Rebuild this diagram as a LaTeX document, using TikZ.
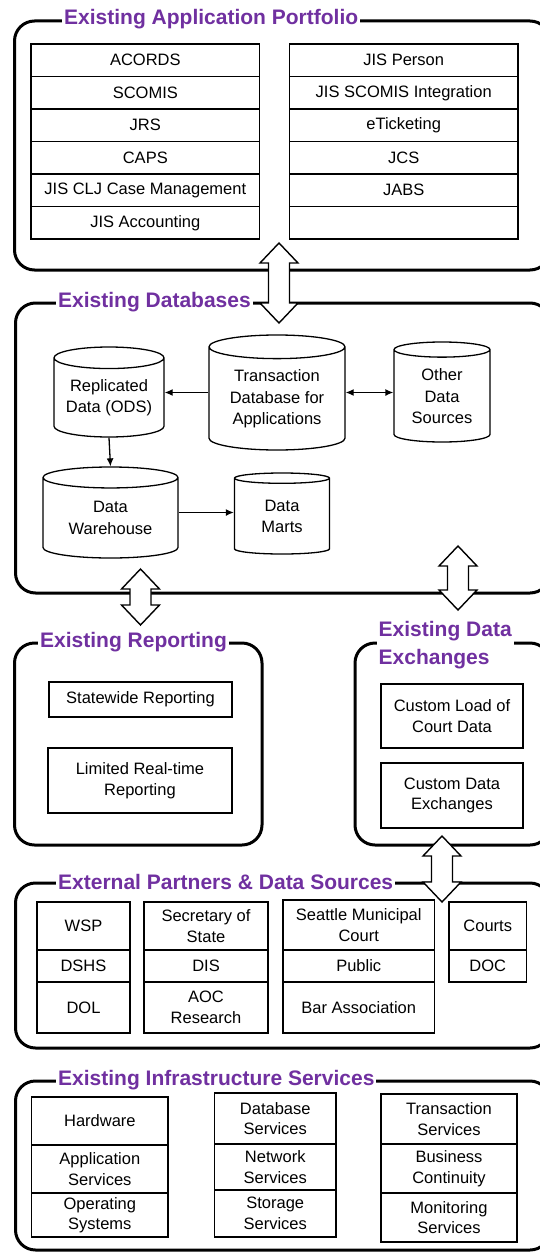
\documentclass[tikz,border=0pt]{standalone}
\usepackage{fontspec}
\setmainfont{Liberation Sans}
\usetikzlibrary{shapes.geometric,arrows.meta,calc}
\definecolor{titlepurple}{RGB}{112,48,160}
\tikzset{
    group/.style={line width=3pt, rounded corners=20pt},
    grouptitle/.style={fill=white, text=titlepurple, anchor=west, align=left,
      font=\fontsize{21}{28}\selectfont\bfseries, inner xsep=2pt, inner ysep=0pt},
    cell/.style={draw, line width=1.2pt, inner sep=0pt, align=center,
      font=\fontsize{16.5}{20.5}\selectfont},
    db/.style={cylinder, shape border rotate=90, draw, fill=white, line width=1.3pt,
      aspect=0.25, inner sep=0pt, align=center, anchor=shape center,
      font=\fontsize{16.5}{21.5}\selectfont},
    link/.style={line width=1.3pt, -{Latex[length=8pt,width=7pt]}},
    bigarrow/.style={draw, fill=white, line width=1.4pt, line join=miter,
      to path={-- ($(\tikztostart)+(19,20)$) -- ($(\tikztostart)+(10.5,20)$)
        -- ($(\tikztotarget)+(10.5,-20)$) -- ($(\tikztotarget)+(19,-20)$)
        -- (\tikztotarget) -- ($(\tikztotarget)+(-19,-20)$) -- ($(\tikztotarget)+(-10.5,-20)$)
        -- ($(\tikztostart)+(-10.5,20)$) -- ($(\tikztostart)+(-19,20)$) -- cycle}},
  }

\begin{document}
\begin{tikzpicture}[x=1pt,y=-1pt]
	          %page = 540 x 1255, y goes down
	          \useasboundingbox (0,0) rectangle (540,1255);
	          \clip (0,0) rectangle (540,1255);

	          %group frames
	          \draw[group] (14.5,21) rectangle (550,270);
	          \draw[group] (15.5,303) rectangle (550,593);
	          \draw[group] (14.5,643) rectangle (262,845);
	          \draw[group] (355,643) rectangle (550,845);
	          \draw[group] (15.5,883) rectangle (550,1048);
	          \draw[group] (15.5,1081) rectangle (550,1250);

	          \node[grouptitle] (tportfolio) at (62,19) {Existing Application Portfolio};
	          \node[grouptitle] (tdatabases) at (56,302) {Existing Databases};
	          \node[grouptitle] (treporting) at (38,642) {Existing Reporting};
	          \node[grouptitle] (texchanges) at (376.5,645) {Existing Data\\Exchanges};
	          \node[grouptitle] (tpartners) at (56,882) {External Partners \& Data Sources};
	          \node[grouptitle] (tinfra) at (56,1080) {Existing Infrastructure Services};

	          %application portfolio
	          \foreach \txt [count=\i] in {ACORDS,SCOMIS,JRS,CAPS,JIS CLJ Case Management,JIS Accounting}
	            \node[cell, minimum width=228.5pt, minimum height=32.5pt] (appL\i) at (145.3,27.75+32.5*\i) {\txt};
	          \foreach \txt [count=\i] in {JIS Person,JIS SCOMIS Integration,eTicketing,JCS,JABS,{}}
	            \node[cell, minimum width=228.5pt, minimum height=32.5pt] (appR\i) at (403.7,27.75+32.5*\i) {\txt};

	          %block arrows between groups
	          \coordinate (a1t) at (279,243);   \coordinate (a1b) at (279,323);
	          \coordinate (a2t) at (140.5,569); \coordinate (a2b) at (140.5,625);
	          \coordinate (a3t) at (458,546);   \coordinate (a3b) at (458,610);
	          \coordinate (a4t) at (442,836);   \coordinate (a4b) at (442,902);
	          \draw[bigarrow] (a1t) to (a1b);
	          \draw[bigarrow] (a2t) to (a2b);
	          \draw[bigarrow] (a3t) to (a3b);
	          \draw[bigarrow] (a4t) to (a4b);

	          %databases
	          \node[db, minimum width=110pt, minimum height=90pt] (rep) at (109,392) {Replicated\\Data (ODS)};
	          \node[db, minimum width=136pt, minimum height=115pt] (tdb) at (277,392.5) {Transaction\\Database for\\Applications};
	          \node[db, minimum width=96pt, minimum height=100pt] (ods) at (442,392) {Other\\Data\\Sources};
	          \node[db, minimum width=135pt, minimum height=91pt] (dwh) at (110.5,512.5) {Data\\Warehouse};
	          \node[db, minimum width=95pt, minimum height=81pt] (dm) at (282,513.5) {Data\\Marts};
	          \draw[link] (tdb.west |- tdb.shape center) -- (rep.east |- tdb.shape center);
	          \draw[link, {Latex[length=8pt,width=7pt]}-{Latex[length=8pt,width=7pt]}] (tdb.east |- tdb.shape center) -- (ods.west |- tdb.shape center);
	          \draw[link] (rep.south) -- (dwh.north);
	          \draw[link] (dwh.east |- dwh.shape center) -- (dm.west |- dwh.shape center);

	          %reporting
	          \node[cell, minimum width=183pt, minimum height=35pt] (statewide) at (140.5,699.5) {Statewide Reporting};
	          \node[cell, minimum width=184pt, minimum height=65pt] (realtime) at (140,780.5) {Limited Real-time\\Reporting};

	          %data exchanges
	          \node[cell, minimum width=142pt, minimum height=64pt] (customload) at (452,716) {Custom Load of\\Court Data};
	          \node[cell, minimum width=142pt, minimum height=65pt] (customex) at (452,795.5) {Custom Data\\Exchanges};

	          %external partners
	          \node[cell, minimum width=93pt, minimum height=48pt] (wsp) at (83.5,926) {WSP};
	          \node[cell, minimum width=93pt, minimum height=32pt] (dshs) at (83.5,966) {DSHS};
	          \node[cell, minimum width=93pt, minimum height=51pt] (dol) at (83.5,1007.5) {DOL};
	          \node[cell, minimum width=124pt, minimum height=48pt] (sos) at (206,926) {Secretary of\\State};
	          \node[cell, minimum width=124pt, minimum height=32pt] (dis) at (206,966) {DIS};
	          \node[cell, minimum width=124pt, minimum height=51pt] (aoc) at (206,1007.5) {AOC\\Research};
	          \node[cell, minimum width=151.5pt, minimum height=50pt] (seattle) at (358.75,925) {Seattle Municipal\\Court};
	          \node[cell, minimum width=151.5pt, minimum height=32pt] (public) at (358.75,966) {Public};
	          \node[cell, minimum width=151.5pt, minimum height=51pt] (bar) at (358.75,1007.5) {Bar Association};
	          \node[cell, minimum width=77.5pt, minimum height=48pt] (courts) at (487.75,926) {Courts};
	          \node[cell, minimum width=77.5pt, minimum height=32pt] (doc) at (487.75,966) {DOC};

	          %infrastructure services
	          \node[cell, minimum width=136.3pt, minimum height=48pt] (hw) at (99.85,1121) {Hardware};
	          \node[cell, minimum width=136.3pt, minimum height=48pt] (appsvc) at (99.85,1169) {Application\\Services};
	          \node[cell, minimum width=136.3pt, minimum height=44pt] (os) at (99.85,1215) {Operating\\Systems};
	          \node[cell, minimum width=121.5pt, minimum height=51pt] (dbsvc) at (275.25,1118.5) {Database\\Services};
	          \node[cell, minimum width=121.5pt, minimum height=46pt] (netsvc) at (275.25,1167) {Network\\Services};
	          \node[cell, minimum width=121.5pt, minimum height=47pt] (storesvc) at (275.25,1213.5) {Storage\\Services};
	          \node[cell, minimum width=136pt, minimum height=50pt] (txsvc) at (449,1119) {Transaction\\Services};
	          \node[cell, minimum width=136pt, minimum height=49pt] (bcsvc) at (449,1168.5) {Business\\Continuity};
	          \node[cell, minimum width=136pt, minimum height=49pt] (monsvc) at (449,1217.5) {Monitoring\\Services};
\end{tikzpicture}
\end{document}
